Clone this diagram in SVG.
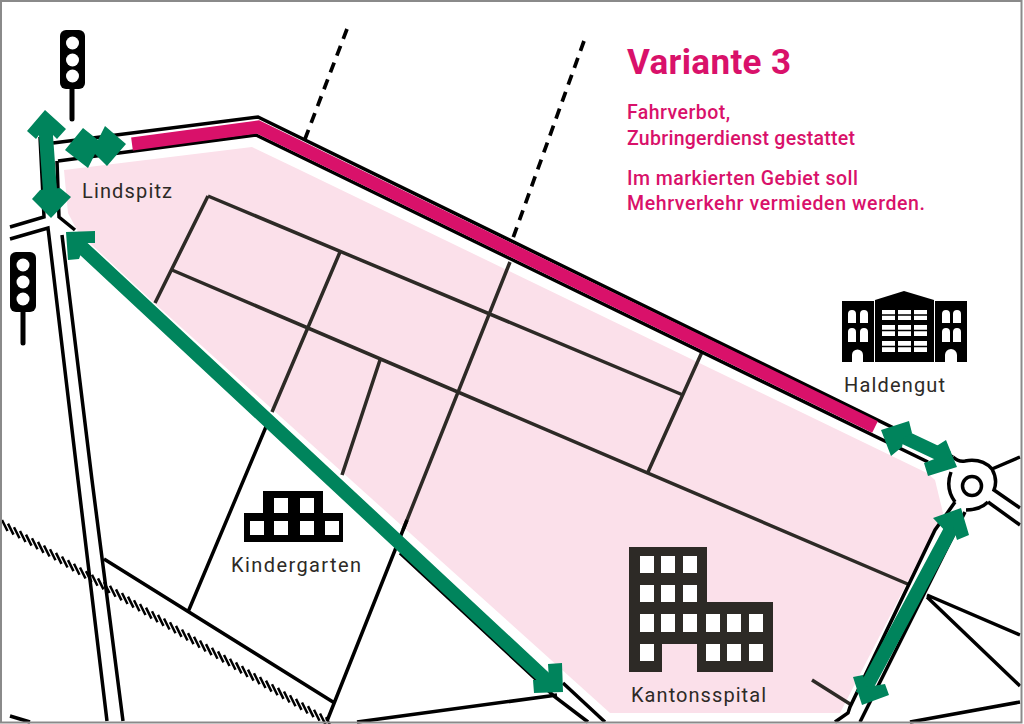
<svg xmlns="http://www.w3.org/2000/svg" width="1024" height="724" viewBox="0 0 1024 724">
<style>
.road{fill:none;stroke:#000;stroke-width:3.5}
.st{fill:none;stroke:#2d2a26;stroke-width:3.5}
.g{fill:#00845c}
.gl{fill:none;stroke:#00845c;stroke-width:14}
.lab{font-family:Roboto,"Liberation Sans",sans-serif;font-size:20px;fill:#2d2a26}
.mg{font-family:Roboto,"Liberation Sans",sans-serif;font-size:19.5px;font-weight:500;fill:#d9116a}
.wh{fill:#fff}
.pk{fill:#fbe0ea}
</style>
<rect width="1024" height="724" fill="#fff"/>
<g id="area"><polygon class="pk" points="64,170 252,147 300,170 927,473 935,480 943,513 840,713 610,713 153,302 78,232 68,213"/></g>
<g id="streets">
<path class="st" d="M208,196L683,395M172,270L910,585M208,196L155,303M340,252L272,412M510,262L403,530M380,360L342,475M702,352L648,472M812,680L850,704"/>
</g>
<g id="connectors">
<path class="road" d="M53,143L258,117L953,457M58,161L256,135L928,462"/>
<path class="road" d="M40,137L44,217L10,227M57,161L59,217L75,230M400,553L555,697L588,722M10,239L48,228L78,480L107,721M62,235L92,480L123,721M563,683L605,722"/>
<path class="road" d="M955,502L948,512L935,530L850,707L848,713L835,722M965,512L860,722M927,595L1020,635M927,597L1020,686M910,722L1020,702"/>
<path class="road" d="M953,457Q958,462 965,461Q982,458 992,469Q998,480 994,490L1020,508M992,469L1020,457M988,502L1020,525M988,502Q980,510 966,510M951,472Q945,488 955,502"/>
<path class="road" d="M268,422L188,612M407,520L327,721M104,559L333,702M10,716L30,722M357,722L557,695"/>
<path id="rail" fill="none" stroke="#000" stroke-width="2.500" d="M2,520l5.500,11m.5,-7.350l5.500,11m.5,-7.350l5.500,11m.5,-7.350l5.500,11m.5,-7.350l5.500,11m.5,-7.350l5.500,11m.5,-7.350l5.500,11m.5,-7.350l5.500,11m.5,-7.350l5.500,11m.5,-7.350l5.500,11m.5,-7.350l5.500,11m.5,-7.350l5.500,11m.5,-7.350l5.500,11m.5,-7.350l5.500,11m.5,-7.350l5.500,11m.5,-7.350l5.500,11m.5,-7.350l5.500,11m.5,-7.350l5.500,11m.5,-7.350l5.500,11m.5,-7.350l5.500,11m.5,-7.350l5.500,11m.5,-7.350l5.500,11m.5,-7.350l5.500,11m.5,-7.350l5.500,11m.5,-7.350l5.500,11m.5,-7.350l5.500,11m.5,-7.350l5.500,11m.5,-7.350l5.500,11m.5,-7.350l5.500,11m.5,-7.350l5.500,11m.5,-7.350l5.500,11m.5,-7.350l5.500,11m.5,-7.350l5.500,11m.5,-7.350l5.500,11m.5,-7.350l5.500,11m.5,-7.350l5.500,11m.5,-7.350l5.500,11m.5,-7.350l5.500,11m.5,-7.350l5.500,11m.5,-7.350l5.500,11m.5,-7.350l5.500,11m.5,-7.350l5.500,11m.5,-7.350l5.500,11m.5,-7.350l5.500,11m.5,-7.350l5.500,11m.5,-7.350l5.500,11m.5,-7.350l5.500,11m.5,-7.350l5.500,11m.5,-7.350l5.500,11m.5,-7.350l5.500,11m.5,-7.350l5.500,11m.5,-7.350l5.500,11m.5,-7.350l5.500,11m.5,-7.350l5.500,11m.5,-7.350l5.500,11"/>
<path fill="none" stroke="#000" stroke-width="3.700" stroke-dasharray="10.500 7.500" d="M347,29L305,139M584,41L513,238"/>
<circle cx="972" cy="486" r="9.500" fill="#fff" stroke="#000" stroke-width="3.500"/>
<path fill="none" stroke="#d9116a" stroke-width="13" d="M132,144L258,127L875,427"/>
<path class="gl" d="M72,238L553,686M45,122L51,205M893,432L948,458M957,518L862,695M85,148L105,146"/>
<path d="M90,155L100,154" stroke="#000" stroke-width="3"/>
<polygon class="g" points="66,232 95,231 95,243 85,243 79,259 68,260"/>
<polygon class="g" points="562,663 563,692 534,693 533,680 549,680 548,664"/>
<polygon class="g" points="45,110 66,129 57,139 53,135 39,135 36,139 27,131"/>
<polygon class="g" points="32,199 40,190 60,188 71,197 51,218"/>
<polygon class="g" points="65,150 83,128 98,140 105,126 126,144 107,166 95,154 88,168"/>
<polygon class="g" points="881,430 909,421 912,433 904,438 902,447 891,456"/>
<polygon class="g" points="946,440 957,467 928,476 924,463 937,458 935,447"/>
<polygon class="g" points="933,518 961,508 969,535 957,540 953,527 947,533"/>
<polygon class="g" points="853,677 863,675 867,687 885,684 889,695 862,705"/>
</g>
<g id="light-top">
<rect x="60" y="30" width="25" height="59" rx="6" fill="#000"/>
<circle class="wh" cx="72.500" cy="43" r="6.500"/><circle class="wh" cx="72.500" cy="60" r="6.500"/><circle class="wh" cx="72.500" cy="76" r="6.500"/>
<path d="M72,89V119" stroke="#000" stroke-width="5" stroke-linecap="round"/>
</g>
<g id="light-left">
<rect x="10" y="252" width="26" height="60" rx="6" fill="#000"/>
<circle class="wh" cx="23" cy="265" r="6.500"/><circle class="wh" cx="23" cy="282" r="6.500"/><circle class="wh" cx="23" cy="299" r="6.500"/>
<path d="M23,312V343" stroke="#000" stroke-width="5" stroke-linecap="round"/>
</g>
<g id="lindspitz"><text class="lab" x="82" y="198" textLength="90">Lindspitz</text></g>
<g id="haldengut">
<path d="M842,301H874V362H863V355A5.500,5.500 0 0 0 852,355V362H842Z" fill="#000"/>
<path d="M935,301H967V362H957V355A6,6 0 0 0 945,355V362H935Z" fill="#000"/>
<path d="M875,300L904,291L934,300V362H875Z" fill="#000"/>
<g fill="#fff">
<path d="M848,323V314A4,4 0 0 1 856,314V323ZM860,323V314A4,4 0 0 1 868,314V323ZM848,342V332A4,4 0 0 1 856,332V342ZM860,342V332A4,4 0 0 1 868,332V342ZM942,323V314A4,4 0 0 1 950,314V323ZM953,323V314A4,4 0 0 1 961,314V323ZM942,342V332A4,4 0 0 1 950,332V342ZM953,342V332A4,4 0 0 1 961,332V342Z"/>
<rect x="882" y="310" width="13" height="10"/><rect x="898" y="310" width="13" height="10"/><rect x="914" y="310" width="13" height="10"/>
<rect x="882" y="325" width="13" height="11"/><rect x="898" y="325" width="13" height="11"/><rect x="914" y="325" width="13" height="11"/>
<rect x="882" y="341" width="13" height="11"/><rect x="898" y="341" width="13" height="11"/><rect x="914" y="341" width="13" height="11"/>
</g>
<path d="M880,315H929M880,330.500H929M880,346.500H929" stroke="#000" stroke-width="1.500"/>
<text class="lab" x="844" y="392" textLength="101">Haldengut</text>
</g>
<g id="kindergarten">
<path d="M263,491H323V513H343V542H244V513H263Z" fill="#000"/>
<g fill="#fff">
<rect x="274" y="498" width="14" height="15"/><rect x="300" y="498" width="14" height="15"/>
<rect x="250" y="521" width="14" height="14"/><rect x="274" y="521" width="14" height="14"/><rect x="300" y="521" width="14" height="14"/><rect x="325" y="521" width="14" height="14"/>
</g>
<text class="lab" x="231" y="572" textLength="130">Kindergarten</text>
</g>
<g id="kantonsspital">
<path d="M629,547H707V602H773V672H697V644H662V672H629Z" fill="#2d2a26"/>
<g fill="#fff">
<rect x="640" y="556" width="14" height="17"/><rect x="661" y="556" width="14" height="17"/><rect x="683" y="556" width="14" height="17"/>
<rect x="640" y="585" width="14" height="17"/><rect x="661" y="585" width="14" height="17"/><rect x="683" y="585" width="14" height="17"/>
<rect x="640" y="614" width="14" height="18"/><rect x="661" y="614" width="14" height="18"/><rect x="683" y="614" width="14" height="18"/><rect x="706" y="614" width="14" height="18"/><rect x="727" y="614" width="14" height="18"/><rect x="749" y="614" width="14" height="18"/>
<rect x="640" y="644" width="14" height="17"/><rect x="706" y="644" width="14" height="17"/><rect x="727" y="644" width="14" height="17"/><rect x="749" y="644" width="14" height="17"/>
</g>
<text class="lab" x="631" y="702" textLength="135">Kantonsspital</text>
</g>
<g id="legend">
<text x="627" y="74" font-family="Roboto,'Liberation Sans',sans-serif" font-size="35" font-weight="700" fill="#d9116a" textLength="164">Variante 3</text>
<text class="mg" x="627" y="119" textLength="103">Fahrverbot,</text>
<text class="mg" x="627" y="145" textLength="228">Zubringerdienst gestattet</text>
<text class="mg" x="627" y="185" textLength="231">Im markierten Gebiet soll</text>
<text class="mg" x="627" y="210" textLength="298">Mehrverkehr vermieden werden.</text>
</g>
<rect x="1" y="1" width="1020.500" height="721.500" fill="none" stroke="#8a8a8a" stroke-width="2"/>
</svg>
